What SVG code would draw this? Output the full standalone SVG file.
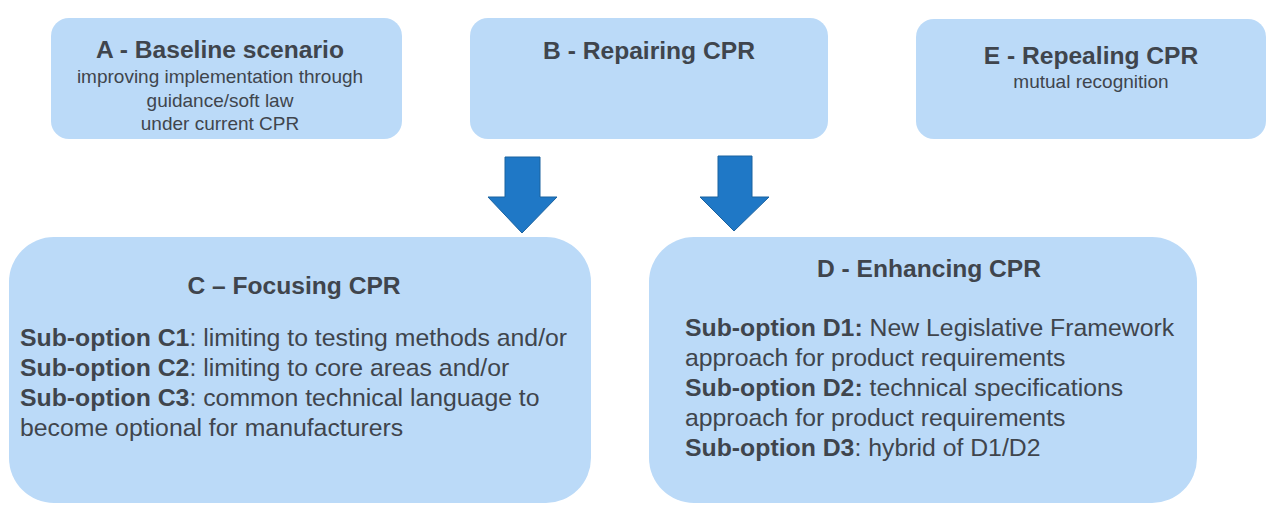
<svg xmlns="http://www.w3.org/2000/svg" width="1275" height="514" viewBox="0 0 1275 514">
<style>
.box{fill:#BBDAF8;}
.t{font-family:"Liberation Sans",Arial,sans-serif;fill:#3F454D;}
.title{font-size:24.6px;font-weight:bold;text-anchor:middle;}
.sub{font-size:19px;text-anchor:middle;}
.body{font-size:24.8px;}
.b{font-weight:bold;}
.arrow{fill:#1F78C6;stroke:#1B629F;stroke-width:1;}
</style>
<rect width="1275" height="514" fill="#ffffff"/>
<g id="nodeA">
<rect class="box" x="51" y="18" width="351" height="121" rx="18"/>
<text class="t title" x="220" y="58">A - Baseline scenario</text>
<text class="t sub" x="220" y="83">improving implementation through</text>
<text class="t sub" x="220" y="107">guidance/soft law</text>
<text class="t sub" x="220" y="130">under current CPR</text>
</g>
<g id="nodeB">
<rect class="box" x="470" y="18" width="358" height="121" rx="18"/>
<text class="t title" x="649" y="59">B - Repairing CPR</text>
</g>
<g id="nodeE">
<rect class="box" x="916" y="19" width="350" height="120" rx="18"/>
<text class="t title" x="1091" y="64">E - Repealing CPR</text>
<text class="t sub" x="1091" y="88">mutual recognition</text>
</g>
<g id="nodeC">
<rect class="box" x="9" y="237" width="582" height="266" rx="45"/>
<text class="t title" x="294" y="294">C – Focusing CPR</text>
<text class="t body" x="20" y="346"><tspan class="b">Sub-option C1</tspan>: limiting to testing methods and/or</text>
<text class="t body" x="20" y="376"><tspan class="b">Sub-option C2</tspan>: limiting to core areas and/or</text>
<text class="t body" x="20" y="406"><tspan class="b">Sub-option C3</tspan>: common technical language to</text>
<text class="t body" x="20" y="436">become optional for manufacturers</text>
</g>
<g id="nodeD">
<rect class="box" x="649" y="237" width="548" height="266" rx="45"/>
<text class="t title" x="929" y="277">D - Enhancing CPR</text>
<text class="t body" x="685" y="336"><tspan class="b">Sub-option D1:</tspan> New Legislative Framework</text>
<text class="t body" x="685" y="366">approach for product requirements</text>
<text class="t body" x="685" y="396"><tspan class="b">Sub-option D2:</tspan> technical specifications</text>
<text class="t body" x="685" y="426">approach for product requirements</text>
<text class="t body" x="685" y="456"><tspan class="b">Sub-option D3</tspan>: hybrid of D1/D2</text>
</g>
<g id="connectors">
<polygon class="arrow" points="505,157 540,157 540,197 557,197 522,233 488,197 505,197"/>
<polygon class="arrow" points="718,156 752,156 752,197 769,197 734,231 700,197 718,197"/>
</g>
</svg>
